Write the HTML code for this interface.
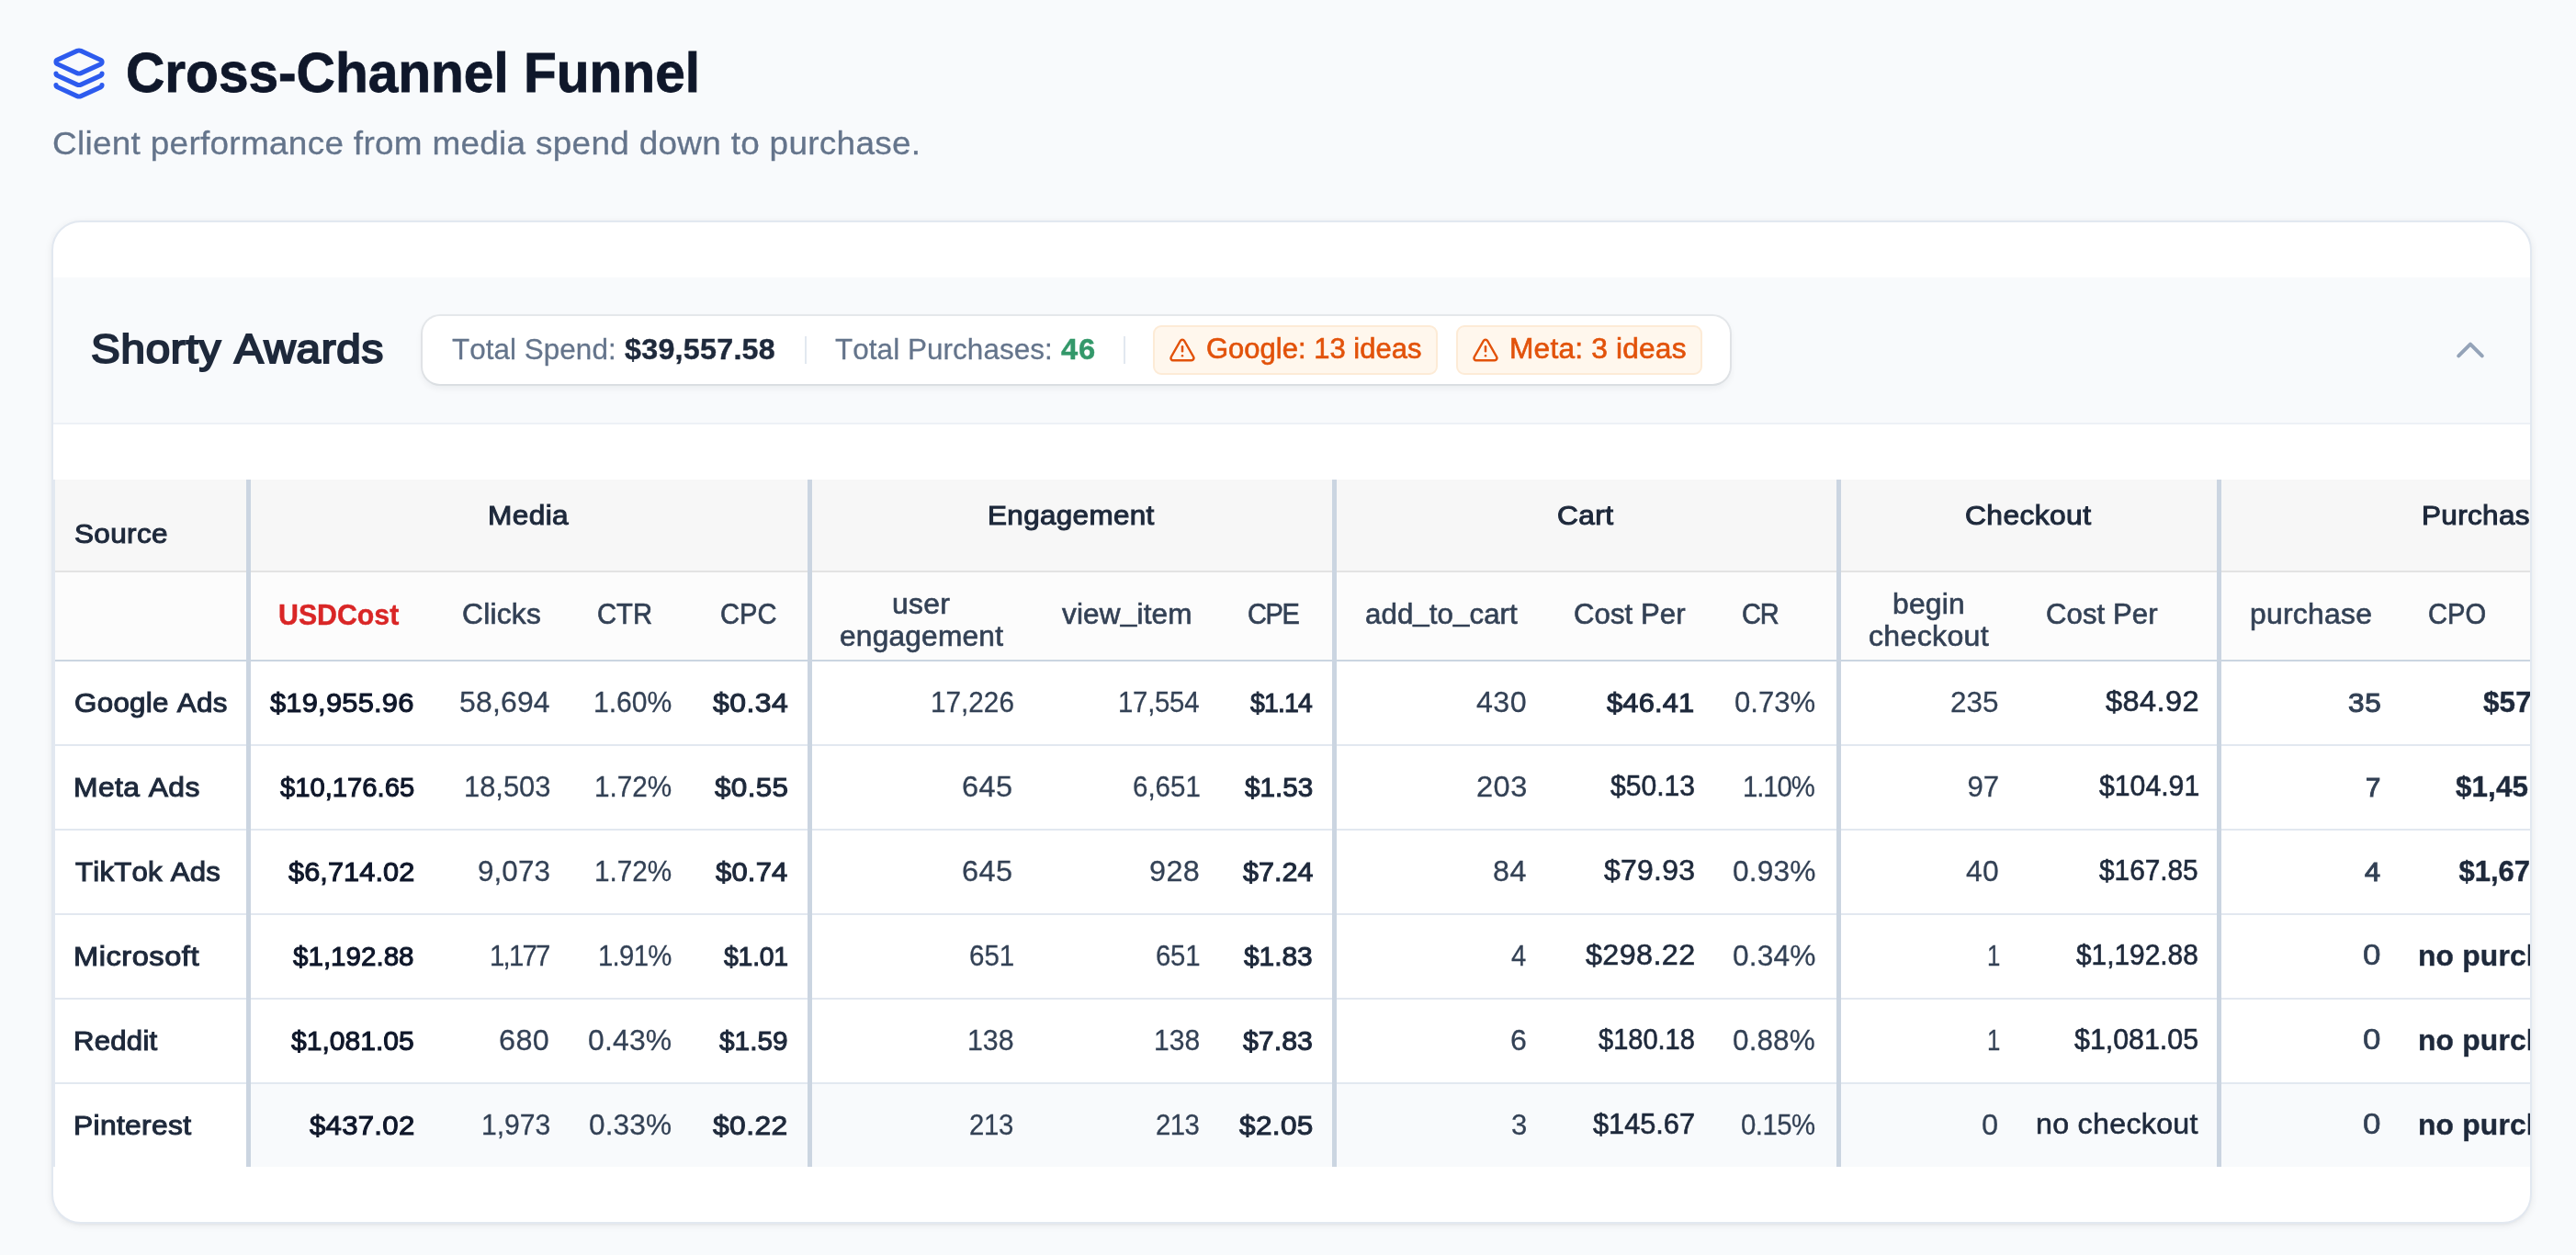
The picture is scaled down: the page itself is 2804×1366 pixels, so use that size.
<!DOCTYPE html>
<html lang="en"><head><meta charset="utf-8"><title>Cross-Channel Funnel</title>
<style>
html,body{margin:0;padding:0}
body{width:2804px;height:1366px;overflow:hidden;background:#f8fafc;position:relative;font-family:"Liberation Sans", sans-serif;-webkit-font-smoothing:antialiased}
.t{position:absolute;white-space:pre;transform-origin:0 0;display:block;font-kerning:none}
.abs{position:absolute}
.u{font-style:normal;position:relative;top:-3px}
.gl{position:absolute;left:0;top:0;width:100%;height:100%;will-change:transform}
.card{position:absolute;left:56px;top:240px;width:2700px;height:1092px;box-sizing:border-box;border:2px solid #e2e8f0;border-radius:32px;background:#fff;overflow:hidden;box-shadow:0 2px 8px rgba(0,0,0,.075),0 2px 4px -2px rgba(0,0,0,.07)}
.band{position:absolute;left:0;top:60px;width:2696px;height:158px;background:#f8fafc;border-bottom:2px solid #edf1f6}
.pill{position:absolute;left:401.5px;top:102px;width:1423.5px;height:74px;border-radius:19px;background:#fff;box-shadow:0 0 0 2px rgba(15,23,42,.075),0 4px 8px rgba(15,23,42,.07)}
.vdiv{position:absolute;top:124px;width:2px;height:30px;background:#e2e8f0}
.badge{position:absolute;top:112px;height:54px;box-sizing:border-box;border:2px solid #fdebd6;border-radius:9px;background:#fff7ed}
.tbl{position:absolute;left:0;top:280px;width:2696px;height:748px;border-left:2px solid #e2e8f0;box-sizing:border-box}
.h1{position:absolute;left:0;top:0;width:100%;height:99px;background:#f7f7f7;border-bottom:2px solid #e3e3e3}
.h2{position:absolute;left:0;top:101px;width:100%;height:95px;background:#fcfcfc;border-bottom:2px solid #cbd5e1}
.rl{position:absolute;left:0;width:100%;height:2px;background:#e2e8f0}
.hov{position:absolute;left:213px;top:658px;right:0;height:90px;background:#f8fafc}
.sep{position:absolute;top:0;height:748px;background:#cbd5e1}
</style></head><body>
<svg class="abs" style="left:56px;top:50px" width="60" height="60" viewBox="0 0 24 24" fill="none" stroke="#2d5bee" stroke-width="2.05" stroke-linecap="round" stroke-linejoin="round"><path d="M12.83 2.18a2 2 0 0 0-1.66 0L2.6 6.08a1 1 0 0 0 0 1.83l8.58 3.91a2 2 0 0 0 1.66 0l8.58-3.9a1 1 0 0 0 0-1.83z"/><path d="M2 12a1 1 0 0 0 .58.91l8.6 3.91a2 2 0 0 0 1.65 0l8.58-3.9A1 1 0 0 0 22 12"/><path d="M2 17a1 1 0 0 0 .58.91l8.6 3.91a2 2 0 0 0 1.65 0l8.58-3.9A1 1 0 0 0 22 17"/></svg>
<div class="gl">
<span class="t" style="left:137.10px;top:48.30px;font-size:62px;line-height:62px;color:#0f172a;font-weight:700;transform:scaleX(0.9450);-webkit-text-stroke:0.83px #0f172a;">Cross-Channel Funnel</span>
<span class="t" style="left:57.01px;top:138.80px;font-size:35.5px;line-height:35.5px;color:#64748b;letter-spacing:0.283px;transform:scaleX(1.0402);-webkit-text-stroke:0.3px #64748b;">Client performance from media spend down to purchase.</span>
</div>
<div class="card">
 <div class="band"></div>
 <div class="pill"></div>
 <div class="vdiv" style="left:817.5px"></div>
 <div class="vdiv" style="left:1165px"></div>
 <div class="badge" style="left:1197px;width:310px"></div>
 <div class="badge" style="left:1527px;width:268px"></div>
 <svg class="abs" style="left:1213.8px;top:123.5px" width="30" height="30" viewBox="0 0 24 24" fill="none" stroke="#e2520a" stroke-width="2" stroke-linecap="round" stroke-linejoin="round"><path d="m21.73 18-8-14a2 2 0 0 0-3.48 0l-8 14A2 2 0 0 0 4 21h16a2 2 0 0 0 1.73-3"/><path d="M12 9v4"/><path d="M12 17h.01"/></svg>
 <svg class="abs" style="left:1544.2px;top:123.5px" width="30" height="30" viewBox="0 0 24 24" fill="none" stroke="#e2520a" stroke-width="2" stroke-linecap="round" stroke-linejoin="round"><path d="m21.73 18-8-14a2 2 0 0 0-3.48 0l-8 14A2 2 0 0 0 4 21h16a2 2 0 0 0 1.73-3"/><path d="M12 9v4"/><path d="M12 17h.01"/></svg>
 <svg class="abs" style="left:2602px;top:118px" width="60" height="40" viewBox="2660 360 60 40" fill="none" stroke="#94a3b8" stroke-width="4" stroke-linecap="round" stroke-linejoin="round"><path d="M2676.2 387.3 2689 374.6 2701.8 387.3"/></svg>
 <div class="tbl">
  <div class="h1"></div><div class="h2"></div>
  <div class="hov"></div>
  <div class="rl" style="top:288px"></div><div class="rl" style="top:380px"></div><div class="rl" style="top:472px"></div><div class="rl" style="top:564px"></div><div class="rl" style="top:656px"></div>
  <div class="sep" style="left:208.0px;width:5.0px"></div><div class="sep" style="left:819.2px;width:4.6px"></div><div class="sep" style="left:1390.4px;width:4.6px"></div><div class="sep" style="left:1939.3px;width:4.6px"></div><div class="sep" style="left:2353.2px;width:4.6px"></div>
 </div>
 <div class="gl">
  <div class="summary">
   <span class="t" style="left:40.96px;top:116.37px;font-size:44.3px;line-height:44.3px;color:#1e293b;letter-spacing:0.702px;transform:scaleX(1.0735);-webkit-text-stroke:2.07px #1e293b;">Shorty Awards</span>
   <span class="t" style="left:433.93px;top:123.06px;font-size:31.2px;line-height:31.2px;color:#64748b;letter-spacing:0.048px;transform:scaleX(1.0071);-webkit-text-stroke:0.26px #64748b;">Total Spend:</span>
   <span class="t" style="left:621.51px;top:123.15px;font-size:31.0px;line-height:31.0px;color:#1e293b;font-weight:700;letter-spacing:0.275px;transform:scaleX(1.0386);-webkit-text-stroke:0.41px #1e293b;">$39,557.58</span>
   <span class="t" style="left:850.73px;top:123.06px;font-size:31.2px;line-height:31.2px;color:#64748b;letter-spacing:0.055px;transform:scaleX(1.0084);-webkit-text-stroke:0.26px #64748b;">Total Purchases:</span>
   <span class="t" style="left:1096.72px;top:123.15px;font-size:31.0px;line-height:31.0px;color:#33986a;font-weight:700;letter-spacing:0.780px;transform:scaleX(1.0555);-webkit-text-stroke:0.41px #33986a;">46</span>
   <span class="t" style="left:1255.10px;top:123.22px;font-size:30.8px;line-height:30.8px;color:#e2520a;letter-spacing:0.032px;transform:scaleX(1.0049);-webkit-text-stroke:0.62px #e2520a;">Google: 13 ideas</span>
   <span class="t" style="left:1584.56px;top:123.22px;font-size:30.8px;line-height:30.8px;color:#e2520a;letter-spacing:0.185px;transform:scaleX(1.0290);-webkit-text-stroke:0.62px #e2520a;">Meta: 3 ideas</span>
  </div>
  <div class="thead-groups">
   <span class="t" style="left:22.51px;top:323.91px;font-size:30.2px;line-height:30.2px;color:#1e293b;letter-spacing:0.338px;transform:scaleX(1.0434);-webkit-text-stroke:1.06px #1e293b;">Source</span>
   <span class="t" style="left:472.56px;top:303.71px;font-size:30.2px;line-height:30.2px;color:#1e293b;letter-spacing:0.388px;transform:scaleX(1.0465);-webkit-text-stroke:1.06px #1e293b;">Media</span>
   <span class="t" style="left:1017.07px;top:303.71px;font-size:30.2px;line-height:30.2px;color:#1e293b;letter-spacing:0.325px;transform:scaleX(1.0415);-webkit-text-stroke:1.06px #1e293b;">Engagement</span>
   <span class="t" style="left:1637.41px;top:303.71px;font-size:30.2px;line-height:30.2px;color:#1e293b;letter-spacing:0.382px;transform:scaleX(1.0485);-webkit-text-stroke:1.06px #1e293b;">Cart</span>
   <span class="t" style="left:2081.20px;top:303.71px;font-size:30.2px;line-height:30.2px;color:#1e293b;letter-spacing:0.387px;transform:scaleX(1.0519);-webkit-text-stroke:1.06px #1e293b;">Checkout</span>
   <span class="t" style="left:2577.97px;top:303.71px;font-size:30.2px;line-height:30.2px;color:#1e293b;letter-spacing:0.321px;transform:scaleX(1.0431);-webkit-text-stroke:1.06px #1e293b;">Purchas<span style="margin-left:5px">e</span></span>
  </div>
  <div class="thead-cols">
   <span class="t" style="left:244.52px;top:411.55px;font-size:31.0px;line-height:31.0px;color:#d92626;font-weight:700;transform:scaleX(0.9773);-webkit-text-stroke:0.41px #d92626;">USDCost</span>
   <span class="t" style="left:444.89px;top:411.62px;font-size:30.8px;line-height:30.8px;color:#334155;letter-spacing:0.213px;transform:scaleX(1.0315);-webkit-text-stroke:0.62px #334155;">Clicks</span>
   <span class="t" style="left:592.44px;top:411.62px;font-size:30.8px;line-height:30.8px;color:#334155;transform:scaleX(0.9470);-webkit-text-stroke:0.62px #334155;">CTR</span>
   <span class="t" style="left:726.35px;top:411.62px;font-size:30.8px;line-height:30.8px;color:#334155;transform:scaleX(0.9457);-webkit-text-stroke:0.62px #334155;">CPC</span>
   <span class="t" style="left:913.35px;top:401.42px;font-size:30.8px;line-height:30.8px;color:#334155;letter-spacing:0.274px;transform:scaleX(1.0340);-webkit-text-stroke:0.62px #334155;">user</span>
   <span class="t" style="left:855.99px;top:436.12px;font-size:30.8px;line-height:30.8px;color:#334155;letter-spacing:0.218px;transform:scaleX(1.0274);-webkit-text-stroke:0.62px #334155;">engagement</span>
   <span class="t" style="left:1097.52px;top:411.62px;font-size:30.8px;line-height:30.8px;color:#334155;letter-spacing:0.169px;transform:scaleX(1.0238);-webkit-text-stroke:0.62px #334155;">view<i class="u">_</i>item</span>
   <span class="t" style="left:1299.55px;top:411.62px;font-size:30.8px;line-height:30.8px;color:#334155;letter-spacing:-1.465px;transform:scaleX(0.9400);-webkit-text-stroke:0.62px #334155;">CPE</span>
   <span class="t" style="left:1427.70px;top:411.62px;font-size:30.8px;line-height:30.8px;color:#334155;letter-spacing:0.091px;transform:scaleX(1.0132);-webkit-text-stroke:0.62px #334155;">add<i class="u">_</i>to<i class="u">_</i>cart</span>
   <span class="t" style="left:1655.20px;top:411.62px;font-size:30.8px;line-height:30.8px;color:#334155;letter-spacing:0.074px;transform:scaleX(1.0102);-webkit-text-stroke:0.62px #334155;">Cost Per</span>
   <span class="t" style="left:1838.05px;top:411.62px;font-size:30.8px;line-height:30.8px;color:#334155;letter-spacing:-1.154px;transform:scaleX(0.9400);-webkit-text-stroke:0.62px #334155;">CR</span>
   <span class="t" style="left:2002.19px;top:401.42px;font-size:30.8px;line-height:30.8px;color:#334155;letter-spacing:0.237px;transform:scaleX(1.0309);-webkit-text-stroke:0.62px #334155;">begin</span>
   <span class="t" style="left:1975.78px;top:436.12px;font-size:30.8px;line-height:30.8px;color:#334155;letter-spacing:0.303px;transform:scaleX(1.0419);-webkit-text-stroke:0.62px #334155;">checkout</span>
   <span class="t" style="left:2169.00px;top:411.62px;font-size:30.8px;line-height:30.8px;color:#334155;letter-spacing:0.074px;transform:scaleX(1.0102);-webkit-text-stroke:0.62px #334155;">Cost Per</span>
   <span class="t" style="left:2390.98px;top:411.62px;font-size:30.8px;line-height:30.8px;color:#334155;letter-spacing:0.254px;transform:scaleX(1.0342);-webkit-text-stroke:0.62px #334155;">purchase</span>
   <span class="t" style="left:2584.85px;top:411.62px;font-size:30.8px;line-height:30.8px;color:#334155;transform:scaleX(0.9465);-webkit-text-stroke:0.62px #334155;">CPO</span>
  </div>
  <div class="tr">
   <span class="t" style="left:22.71px;top:507.51px;font-size:30.2px;line-height:30.2px;color:#1e293b;letter-spacing:0.276px;transform:scaleX(1.0384);-webkit-text-stroke:1.06px #1e293b;">Google Ads</span>
   <span class="t" style="left:236.44px;top:507.51px;font-size:30.2px;line-height:30.2px;color:#0f172a;letter-spacing:0.171px;transform:scaleX(1.0243);-webkit-text-stroke:1.06px #0f172a;">$19,955.96</span>
   <span class="t" style="left:441.61px;top:507.06px;font-size:31.2px;line-height:31.2px;color:#334155;letter-spacing:0.187px;transform:scaleX(1.0237);-webkit-text-stroke:0.26px #334155;">58,694</span>
   <span class="t" style="left:587.79px;top:507.06px;font-size:31.2px;line-height:31.2px;color:#334155;transform:scaleX(0.9656);-webkit-text-stroke:0.26px #334155;">1.60%</span>
   <span class="t" style="left:717.56px;top:507.51px;font-size:30.2px;line-height:30.2px;color:#1e293b;letter-spacing:0.439px;transform:scaleX(1.0572);-webkit-text-stroke:1.06px #1e293b;">$0.34</span>
   <span class="t" style="left:954.62px;top:507.06px;font-size:31.2px;line-height:31.2px;color:#334155;transform:scaleX(0.9534);-webkit-text-stroke:0.26px #334155;">17,226</span>
   <span class="t" style="left:1158.64px;top:507.06px;font-size:31.2px;line-height:31.2px;color:#334155;letter-spacing:-0.257px;transform:scaleX(0.9400);-webkit-text-stroke:0.26px #334155;">17,554</span>
   <span class="t" style="left:1303.30px;top:507.51px;font-size:30.2px;line-height:30.2px;color:#1e293b;letter-spacing:-0.841px;transform:scaleX(0.9400);-webkit-text-stroke:1.06px #1e293b;">$1.14</span>
   <span class="t" style="left:1549.03px;top:507.06px;font-size:31.2px;line-height:31.2px;color:#334155;letter-spacing:0.370px;transform:scaleX(1.0344);-webkit-text-stroke:0.26px #334155;">430</span>
   <span class="t" style="left:1691.44px;top:507.51px;font-size:30.2px;line-height:30.2px;color:#1e293b;letter-spacing:0.170px;transform:scaleX(1.0219);-webkit-text-stroke:1.06px #1e293b;">$46.41</span>
   <span class="t" style="left:1830.13px;top:507.06px;font-size:31.2px;line-height:31.2px;color:#334155;transform:scaleX(0.9959);-webkit-text-stroke:0.26px #334155;">0.73%</span>
   <span class="t" style="left:2064.52px;top:507.06px;font-size:31.2px;line-height:31.2px;color:#334155;letter-spacing:0.082px;transform:scaleX(1.0076);-webkit-text-stroke:0.26px #334155;">235</span>
   <span class="t" style="left:2233.62px;top:507.22px;font-size:30.8px;line-height:30.8px;color:#1e293b;letter-spacing:0.416px;transform:scaleX(1.0547);-webkit-text-stroke:0.62px #1e293b;">$84.92</span>
   <span class="t" style="left:2497.51px;top:507.51px;font-size:30.2px;line-height:30.2px;color:#334155;letter-spacing:0.590px;transform:scaleX(1.0438);-webkit-text-stroke:1.06px #334155;">35</span>
   <span class="t" style="left:2644.71px;top:507.15px;font-size:31.0px;line-height:31.0px;color:#1e293b;font-weight:700;letter-spacing:0.134px;transform:scaleX(1.0125);-webkit-text-stroke:0.41px #1e293b;">$57<span style="margin-left:5px">0.17</span></span>
  </div>
  <div class="tr">
   <span class="t" style="left:21.65px;top:599.51px;font-size:30.2px;line-height:30.2px;color:#1e293b;letter-spacing:0.395px;transform:scaleX(1.0542);-webkit-text-stroke:1.06px #1e293b;">Meta Ads</span>
   <span class="t" style="left:246.61px;top:599.51px;font-size:30.2px;line-height:30.2px;color:#0f172a;transform:scaleX(0.9673);-webkit-text-stroke:1.06px #0f172a;">$10,176.65</span>
   <span class="t" style="left:446.75px;top:599.06px;font-size:31.2px;line-height:31.2px;color:#334155;transform:scaleX(0.9902);-webkit-text-stroke:0.26px #334155;">18,503</span>
   <span class="t" style="left:588.92px;top:599.06px;font-size:31.2px;line-height:31.2px;color:#334155;transform:scaleX(0.9528);-webkit-text-stroke:0.26px #334155;">1.72%</span>
   <span class="t" style="left:719.55px;top:599.51px;font-size:30.2px;line-height:30.2px;color:#1e293b;letter-spacing:0.323px;transform:scaleX(1.0415);-webkit-text-stroke:1.06px #1e293b;">$0.55</span>
   <span class="t" style="left:989.49px;top:599.06px;font-size:31.2px;line-height:31.2px;color:#334155;letter-spacing:0.439px;transform:scaleX(1.0419);-webkit-text-stroke:0.26px #334155;">645</span>
   <span class="t" style="left:1175.08px;top:599.06px;font-size:31.2px;line-height:31.2px;color:#334155;transform:scaleX(0.9466);-webkit-text-stroke:0.26px #334155;">6,651</span>
   <span class="t" style="left:1296.92px;top:599.51px;font-size:30.2px;line-height:30.2px;color:#1e293b;transform:scaleX(0.9827);-webkit-text-stroke:1.06px #1e293b;">$1.53</span>
   <span class="t" style="left:1549.29px;top:599.06px;font-size:31.2px;line-height:31.2px;color:#334155;letter-spacing:0.466px;transform:scaleX(1.0455);-webkit-text-stroke:0.26px #334155;">203</span>
   <span class="t" style="left:1695.10px;top:599.22px;font-size:30.8px;line-height:30.8px;color:#1e293b;transform:scaleX(0.9756);-webkit-text-stroke:0.62px #1e293b;">$50.13</span>
   <span class="t" style="left:1839.34px;top:599.06px;font-size:31.2px;line-height:31.2px;color:#334155;letter-spacing:-1.144px;transform:scaleX(0.9400);-webkit-text-stroke:0.26px #334155;">1.10%</span>
   <span class="t" style="left:2083.43px;top:599.06px;font-size:31.2px;line-height:31.2px;color:#334155;-webkit-text-stroke:0.26px #334155;">97</span>
   <span class="t" style="left:2226.60px;top:599.22px;font-size:30.8px;line-height:30.8px;color:#1e293b;transform:scaleX(0.9809);-webkit-text-stroke:0.62px #1e293b;">$104.91</span>
   <span class="t" style="left:2516.84px;top:599.51px;font-size:30.2px;line-height:30.2px;color:#334155;transform:scaleX(0.9715);-webkit-text-stroke:1.06px #334155;">7</span>
   <span class="t" style="left:2615.21px;top:599.15px;font-size:31.0px;line-height:31.0px;color:#1e293b;font-weight:700;letter-spacing:0.100px;transform:scaleX(1.0122);-webkit-text-stroke:0.41px #1e293b;">$1,45<span style="margin-left:5px">3.81</span></span>
  </div>
  <div class="tr">
   <span class="t" style="left:23.75px;top:691.51px;font-size:30.2px;line-height:30.2px;color:#1e293b;letter-spacing:0.222px;transform:scaleX(1.0319);-webkit-text-stroke:1.06px #1e293b;">TikTok Ads</span>
   <span class="t" style="left:255.54px;top:691.51px;font-size:30.2px;line-height:30.2px;color:#0f172a;letter-spacing:0.108px;transform:scaleX(1.0153);-webkit-text-stroke:1.06px #0f172a;">$6,714.02</span>
   <span class="t" style="left:462.32px;top:691.06px;font-size:31.2px;line-height:31.2px;color:#334155;letter-spacing:0.063px;transform:scaleX(1.0077);-webkit-text-stroke:0.26px #334155;">9,073</span>
   <span class="t" style="left:588.92px;top:691.06px;font-size:31.2px;line-height:31.2px;color:#334155;transform:scaleX(0.9528);-webkit-text-stroke:0.26px #334155;">1.72%</span>
   <span class="t" style="left:720.94px;top:691.51px;font-size:30.2px;line-height:30.2px;color:#1e293b;letter-spacing:0.204px;transform:scaleX(1.0258);-webkit-text-stroke:1.06px #1e293b;">$0.74</span>
   <span class="t" style="left:989.49px;top:691.06px;font-size:31.2px;line-height:31.2px;color:#334155;letter-spacing:0.439px;transform:scaleX(1.0419);-webkit-text-stroke:0.26px #334155;">645</span>
   <span class="t" style="left:1193.30px;top:691.06px;font-size:31.2px;line-height:31.2px;color:#334155;letter-spacing:0.397px;transform:scaleX(1.0385);-webkit-text-stroke:0.26px #334155;">928</span>
   <span class="t" style="left:1294.73px;top:691.51px;font-size:30.2px;line-height:30.2px;color:#1e293b;letter-spacing:0.066px;transform:scaleX(1.0082);-webkit-text-stroke:1.06px #1e293b;">$7.24</span>
   <span class="t" style="left:1566.50px;top:691.06px;font-size:31.2px;line-height:31.2px;color:#334155;letter-spacing:0.519px;transform:scaleX(1.0374);-webkit-text-stroke:0.26px #334155;">84</span>
   <span class="t" style="left:1688.02px;top:691.22px;font-size:30.8px;line-height:30.8px;color:#1e293b;letter-spacing:0.279px;transform:scaleX(1.0360);-webkit-text-stroke:0.62px #1e293b;">$79.93</span>
   <span class="t" style="left:1827.72px;top:691.06px;font-size:31.2px;line-height:31.2px;color:#334155;letter-spacing:0.151px;transform:scaleX(1.0164);-webkit-text-stroke:0.26px #334155;">0.93%</span>
   <span class="t" style="left:2081.63px;top:691.06px;font-size:31.2px;line-height:31.2px;color:#334155;letter-spacing:0.321px;transform:scaleX(1.0221);-webkit-text-stroke:0.26px #334155;">40</span>
   <span class="t" style="left:2227.40px;top:691.22px;font-size:30.8px;line-height:30.8px;color:#1e293b;transform:scaleX(0.9674);-webkit-text-stroke:0.62px #1e293b;">$167.85</span>
   <span class="t" style="left:2516.14px;top:691.51px;font-size:30.2px;line-height:30.2px;color:#334155;transform:scaleX(1.0142);-webkit-text-stroke:1.06px #334155;">4</span>
   <span class="t" style="left:2618.41px;top:691.15px;font-size:31.0px;line-height:31.0px;color:#1e293b;font-weight:700;letter-spacing:0.011px;-webkit-text-stroke:0.41px #1e293b;">$1,67<span style="margin-left:5px">8.51</span></span>
  </div>
  <div class="tr">
   <span class="t" style="left:21.61px;top:783.51px;font-size:30.2px;line-height:30.2px;color:#1e293b;letter-spacing:0.486px;transform:scaleX(1.0802);-webkit-text-stroke:1.06px #1e293b;">Microsoft</span>
   <span class="t" style="left:261.22px;top:783.51px;font-size:30.2px;line-height:30.2px;color:#0f172a;transform:scaleX(0.9795);-webkit-text-stroke:1.06px #0f172a;">$1,192.88</span>
   <span class="t" style="left:474.74px;top:783.06px;font-size:31.2px;line-height:31.2px;color:#334155;letter-spacing:-1.852px;transform:scaleX(0.9400);-webkit-text-stroke:0.26px #334155;">1,177</span>
   <span class="t" style="left:592.84px;top:783.06px;font-size:31.2px;line-height:31.2px;color:#334155;letter-spacing:-0.745px;transform:scaleX(0.9400);-webkit-text-stroke:0.26px #334155;">1.91%</span>
   <span class="t" style="left:730.10px;top:783.51px;font-size:30.2px;line-height:30.2px;color:#1e293b;letter-spacing:-0.229px;transform:scaleX(0.9400);-webkit-text-stroke:1.06px #1e293b;">$1.01</span>
   <span class="t" style="left:996.88px;top:783.06px;font-size:31.2px;line-height:31.2px;color:#334155;transform:scaleX(0.9469);-webkit-text-stroke:0.26px #334155;">651</span>
   <span class="t" style="left:1200.18px;top:783.06px;font-size:31.2px;line-height:31.2px;color:#334155;letter-spacing:-0.241px;transform:scaleX(0.9400);-webkit-text-stroke:0.26px #334155;">651</span>
   <span class="t" style="left:1296.42px;top:783.51px;font-size:30.2px;line-height:30.2px;color:#1e293b;transform:scaleX(0.9893);-webkit-text-stroke:1.06px #1e293b;">$1.83</span>
   <span class="t" style="left:1586.72px;top:783.06px;font-size:31.2px;line-height:31.2px;color:#334155;transform:scaleX(0.9386);-webkit-text-stroke:0.26px #334155;">4</span>
   <span class="t" style="left:1667.62px;top:783.22px;font-size:30.8px;line-height:30.8px;color:#1e293b;letter-spacing:0.371px;transform:scaleX(1.0492);-webkit-text-stroke:0.62px #1e293b;">$298.22</span>
   <span class="t" style="left:1827.72px;top:783.06px;font-size:31.2px;line-height:31.2px;color:#334155;letter-spacing:0.151px;transform:scaleX(1.0164);-webkit-text-stroke:0.26px #334155;">0.34%</span>
   <span class="t" style="left:2104.65px;top:783.06px;font-size:31.2px;line-height:31.2px;color:#334155;transform:scaleX(0.8275);-webkit-text-stroke:0.26px #334155;">1</span>
   <span class="t" style="left:2202.30px;top:783.22px;font-size:30.8px;line-height:30.8px;color:#1e293b;transform:scaleX(0.9693);-webkit-text-stroke:0.62px #1e293b;">$1,192.88</span>
   <span class="t" style="left:2514.42px;top:783.22px;font-size:30.8px;line-height:30.8px;color:#334155;transform:scaleX(1.1335);-webkit-text-stroke:0.62px #334155;">0</span>
   <span class="t" style="left:2573.56px;top:783.15px;font-size:31.0px;line-height:31.0px;color:#1e293b;font-weight:700;letter-spacing:0.193px;transform:scaleX(1.0248);-webkit-text-stroke:0.41px #1e293b;">no purc<span style="margin-left:0px">hase</span></span>
  </div>
  <div class="tr">
   <span class="t" style="left:21.68px;top:875.51px;font-size:30.2px;line-height:30.2px;color:#1e293b;letter-spacing:0.231px;transform:scaleX(1.0320);-webkit-text-stroke:1.06px #1e293b;">Reddit</span>
   <span class="t" style="left:259.03px;top:875.51px;font-size:30.2px;line-height:30.2px;color:#0f172a;transform:scaleX(0.9958);-webkit-text-stroke:1.06px #0f172a;">$1,081.05</span>
   <span class="t" style="left:485.40px;top:875.06px;font-size:31.2px;line-height:31.2px;color:#334155;letter-spacing:0.397px;transform:scaleX(1.0378);-webkit-text-stroke:0.26px #334155;">680</span>
   <span class="t" style="left:582.01px;top:875.06px;font-size:31.2px;line-height:31.2px;color:#334155;letter-spacing:0.201px;transform:scaleX(1.0221);-webkit-text-stroke:0.26px #334155;">0.43%</span>
   <span class="t" style="left:724.72px;top:875.51px;font-size:30.2px;line-height:30.2px;color:#1e293b;transform:scaleX(0.9867);-webkit-text-stroke:1.06px #1e293b;">$1.59</span>
   <span class="t" style="left:994.88px;top:875.06px;font-size:31.2px;line-height:31.2px;color:#334155;transform:scaleX(0.9724);-webkit-text-stroke:0.26px #334155;">138</span>
   <span class="t" style="left:1198.20px;top:875.06px;font-size:31.2px;line-height:31.2px;color:#334155;transform:scaleX(0.9642);-webkit-text-stroke:0.26px #334155;">138</span>
   <span class="t" style="left:1295.33px;top:875.51px;font-size:30.2px;line-height:30.2px;color:#1e293b;letter-spacing:0.022px;transform:scaleX(1.0027);-webkit-text-stroke:1.06px #1e293b;">$7.83</span>
   <span class="t" style="left:1586.30px;top:875.06px;font-size:31.2px;line-height:31.2px;color:#334155;transform:scaleX(1.0288);-webkit-text-stroke:0.26px #334155;">6</span>
   <span class="t" style="left:1681.79px;top:875.22px;font-size:30.8px;line-height:30.8px;color:#1e293b;transform:scaleX(0.9421);-webkit-text-stroke:0.62px #1e293b;">$180.18</span>
   <span class="t" style="left:1828.42px;top:875.06px;font-size:31.2px;line-height:31.2px;color:#334155;letter-spacing:0.099px;transform:scaleX(1.0108);-webkit-text-stroke:0.26px #334155;">0.88%</span>
   <span class="t" style="left:2104.65px;top:875.06px;font-size:31.2px;line-height:31.2px;color:#334155;transform:scaleX(0.8275);-webkit-text-stroke:0.26px #334155;">1</span>
   <span class="t" style="left:2200.10px;top:875.22px;font-size:30.8px;line-height:30.8px;color:#1e293b;transform:scaleX(0.9854);-webkit-text-stroke:0.62px #1e293b;">$1,081.05</span>
   <span class="t" style="left:2514.42px;top:875.22px;font-size:30.8px;line-height:30.8px;color:#334155;transform:scaleX(1.1335);-webkit-text-stroke:0.62px #334155;">0</span>
   <span class="t" style="left:2573.56px;top:875.15px;font-size:31.0px;line-height:31.0px;color:#1e293b;font-weight:700;letter-spacing:0.193px;transform:scaleX(1.0248);-webkit-text-stroke:0.41px #1e293b;">no purc<span style="margin-left:0px">hase</span></span>
  </div>
  <div class="tr">
   <span class="t" style="left:21.65px;top:967.51px;font-size:30.2px;line-height:30.2px;color:#1e293b;letter-spacing:0.317px;transform:scaleX(1.0525);-webkit-text-stroke:1.06px #1e293b;">Pinterest</span>
   <span class="t" style="left:278.55px;top:967.51px;font-size:30.2px;line-height:30.2px;color:#0f172a;letter-spacing:0.247px;transform:scaleX(1.0327);-webkit-text-stroke:1.06px #0f172a;">$437.02</span>
   <span class="t" style="left:465.79px;top:967.06px;font-size:31.2px;line-height:31.2px;color:#334155;transform:scaleX(0.9658);-webkit-text-stroke:0.26px #334155;">1,973</span>
   <span class="t" style="left:583.22px;top:967.06px;font-size:31.2px;line-height:31.2px;color:#334155;letter-spacing:0.114px;transform:scaleX(1.0124);-webkit-text-stroke:0.26px #334155;">0.33%</span>
   <span class="t" style="left:718.16px;top:967.51px;font-size:30.2px;line-height:30.2px;color:#1e293b;letter-spacing:0.399px;transform:scaleX(1.0516);-webkit-text-stroke:1.06px #1e293b;">$0.22</span>
   <span class="t" style="left:997.08px;top:967.06px;font-size:31.2px;line-height:31.2px;color:#334155;letter-spacing:-0.294px;transform:scaleX(0.9400);-webkit-text-stroke:0.26px #334155;">213</span>
   <span class="t" style="left:1200.48px;top:967.06px;font-size:31.2px;line-height:31.2px;color:#334155;letter-spacing:-0.613px;transform:scaleX(0.9400);-webkit-text-stroke:0.26px #334155;">213</span>
   <span class="t" style="left:1290.85px;top:967.51px;font-size:30.2px;line-height:30.2px;color:#1e293b;letter-spacing:0.344px;transform:scaleX(1.0442);-webkit-text-stroke:1.06px #1e293b;">$2.05</span>
   <span class="t" style="left:1586.83px;top:967.06px;font-size:31.2px;line-height:31.2px;color:#334155;transform:scaleX(0.9961);-webkit-text-stroke:0.26px #334155;">3</span>
   <span class="t" style="left:1675.71px;top:967.22px;font-size:30.8px;line-height:30.8px;color:#1e293b;transform:scaleX(0.9972);-webkit-text-stroke:0.62px #1e293b;">$145.67</span>
   <span class="t" style="left:1837.08px;top:967.06px;font-size:31.2px;line-height:31.2px;color:#334155;letter-spacing:-0.543px;transform:scaleX(0.9400);-webkit-text-stroke:0.26px #334155;">0.15%</span>
   <span class="t" style="left:2099.49px;top:967.06px;font-size:31.2px;line-height:31.2px;color:#334155;transform:scaleX(1.0455);-webkit-text-stroke:0.26px #334155;">0</span>
   <span class="t" style="left:2157.63px;top:967.22px;font-size:30.8px;line-height:30.8px;color:#1e293b;letter-spacing:0.298px;transform:scaleX(1.0439);-webkit-text-stroke:0.62px #1e293b;">no checkout</span>
   <span class="t" style="left:2514.42px;top:967.22px;font-size:30.8px;line-height:30.8px;color:#334155;transform:scaleX(1.1335);-webkit-text-stroke:0.62px #334155;">0</span>
   <span class="t" style="left:2573.56px;top:967.15px;font-size:31.0px;line-height:31.0px;color:#1e293b;font-weight:700;letter-spacing:0.193px;transform:scaleX(1.0248);-webkit-text-stroke:0.41px #1e293b;">no purc<span style="margin-left:0px">hase</span></span>
  </div>
 </div>
</div>
</body></html>
